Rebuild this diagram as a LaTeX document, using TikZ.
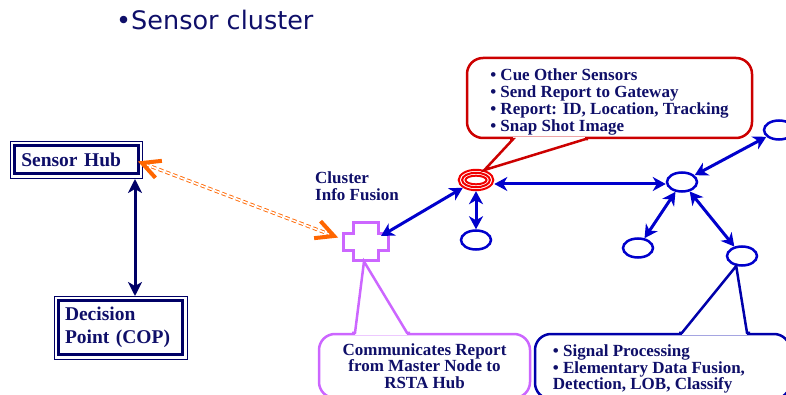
\documentclass[tikz,border=0pt]{standalone}
\usepackage{fontspec}
\setmainfont{Liberation Serif}
\newfontfamily\titlefont{DejaVu Sans}
\usetikzlibrary{arrows.meta,calc,shapes.geometric}
\definecolor{navy}{RGB}{15,15,105}
\definecolor{hubnavy}{RGB}{0,0,102}
\definecolor{nodeblue}{RGB}{0,0,204}
\definecolor{calred}{RGB}{204,0,0}
\definecolor{ringred}{RGB}{240,0,0}
\definecolor{violet}{RGB}{204,102,255}
\definecolor{calblue}{RGB}{0,0,170}
\definecolor{orng}{RGB}{255,102,0}
\begin{document}
\begin{tikzpicture}[x=1pt,y=-1pt,
  txt/.style={font=\bfseries\fontsize{17pt}{16.7pt}\selectfont, text=navy},
  hubbox/.style={draw=hubnavy, line width=3pt, outer sep=0pt, inner ysep=0pt,
    font=\bfseries\fontsize{19.5pt}{22.5pt}\selectfont, text=navy, align=left},
  sensor/.style={ellipse, draw=nodeblue, line width=2.5pt, minimum width=30pt, minimum height=19pt, inner sep=0pt},
  ring/.style={ellipse, draw=ringred, line width=2pt, inner sep=0pt},
  link/.style={draw=nodeblue, line width=3pt,
    {Stealth[length=13pt,width=14pt,inset=4pt]}-{Stealth[length=13pt,width=14pt,inset=4pt]}},
  hublink/.style={draw=hubnavy, line width=3pt,
    {Stealth[length=14pt,width=14pt,inset=4pt]}-{Stealth[length=14pt,width=14pt,inset=4pt]}},
  callout/.style={rounded corners=16pt, line width=2.5pt, fill=white, inner sep=0pt},
  orangeline/.style={draw=orng, line width=0.9pt, double=white, double distance=1.6pt, dash pattern=on 4.5pt off 3pt},
  orangehead/.style={draw=orng, line width=4pt, line join=miter}
]
\useasboundingbox (0,0) rectangle (786,395);

% title
\node[anchor=west, inner sep=0pt, text=navy, font=\titlefont\fontsize{25.5pt}{30pt}\selectfont] (title) at (116,20) {\textbullet Sensor cluster};

% hub boxes
\node[hubbox, minimum width=123.5pt, minimum height=28pt, text width=110pt, inner xsep=6.75pt] (sh) at (76.25,160) {Sensor Hub};
\draw[hubnavy, line width=1pt] ([shift={(-4.5pt,4.5pt)}]sh.north west) rectangle ([shift={(4.5pt,-4.5pt)}]sh.south east);
\node[hubbox, minimum width=124pt, minimum height=54pt, text width=111pt, inner xsep=6.5pt] (dp) at (120.5,327.5) {Decision\\Point (COP)};
\draw[hubnavy, line width=1pt] ([shift={(-4.5pt,4.5pt)}]dp.north west) rectangle ([shift={(4.5pt,-4.5pt)}]dp.south east);
\coordinate (a1) at ([xshift=-3pt,yshift=-5pt]sh.south east);
\coordinate (a2) at ([yshift=4.5pt]a1 |- dp.north);
\draw[hublink] (a1) -- (a2);

% cluster info fusion label
\node[txt, anchor=west, inner sep=0pt, align=left] (cif) at (315,186) {Cluster\\Info Fusion};

% cross (cluster info fusion)
\draw[violet, line width=3pt, line join=miter]
  (353.2,222.5) -- (378.5,222.5) -- (378.5,233.2) -- (388.5,233.2) -- (388.5,250.2) -- (378.5,250.2)
  -- (378.5,260.2) -- (353.2,260.2) -- (353.2,250.2) -- (343.2,250.2) -- (343.2,233.2) -- (353.2,233.2) -- cycle;
\coordinate (cross) at (366,241);
\coordinate (crN) at (381,236);
\coordinate (crS) at (364,261.5);

% orange dashed double link
\coordinate (oL) at ([xshift=4pt,yshift=-3pt]sh.east);
\coordinate (oR) at (334,236);
\draw[orangeline, shorten <=3pt, shorten >=3pt] (oL) -- (oR);
\draw[orangehead] ($(oL)!20pt!27:(oR)$) -- (oL) -- ($(oL)!20pt!-27:(oR)$);
\draw[orangehead] ($(oR)!20pt!27:(oL)$) -- (oR) -- ($(oR)!20pt!-27:(oL)$);

% master node (red rings)
\node[ring, minimum width=34.6pt, minimum height=20.4pt] (master) at (476,180) {};
\node[ring, minimum width=27.8pt, minimum height=14.4pt] (ring2) at (master) {};
\node[ring, minimum width=21pt, minimum height=8.6pt] (ring3) at (master) {};

% sensor nodes
\node[sensor] (n0) at (476,240) {};
\node[sensor] (n1) at (682,182) {};
\node[sensor] (n2) at (779,130) {};
\node[sensor] (n3) at (638,248) {};
\node[sensor] (n4) at (742,256) {};

\draw[link] (master) -- (n0);
\draw[link] (master) -- (crN);
\draw[link] ([yshift=-4pt]master.east) -- ([yshift=-2pt]n1.west);
\draw[link] (n1) -- (n2);
\draw[link] (n1) -- (n3);
\draw[link] (n1) -- (n4);

% red callout
\node[callout, draw=calred, minimum width=285pt, minimum height=80pt] (cue) at (609.5,98) {};
\node[txt, align=left, inner sep=0pt] (cuetext) at ([yshift=-4pt]cue.center)
  {\textbullet\ Cue Other Sensors\\\textbullet\ Send Report to Gateway\\\textbullet\ Report: ID, Location, Tracking\\\textbullet\ Snap Shot Image};
\coordinate (cueL) at ([xshift=-96.5pt]cue.south);
\coordinate (cueR) at ([xshift=-24.5pt]cue.south);
\fill[white] ([yshift=2pt]cueL) rectangle ([yshift=-2pt]cueR);
\draw[calred, line width=2.5pt, line join=miter] ([xshift=-3pt]cueL) -- (cueL) -- (master.50) -- (cueR) -- ([xshift=3pt]cueR);

% violet callout
\node[callout, txt, draw=violet, minimum width=211pt, minimum height=64pt, align=center] (comm) at (424.5,366)
  {Communicates Report\\from Master Node to\\RSTA Hub};
\coordinate (comL) at ([xshift=-69.5pt]comm.north);
\coordinate (comR) at ([xshift=-17.5pt]comm.north);
\fill[white] ([yshift=2pt]comL) rectangle ([yshift=-2pt]comR);
\draw[violet, line width=2.5pt, line join=miter] ([xshift=-3pt]comL) -- (comL) -- (crS) -- (comR) -- ([xshift=3pt]comR);

% blue callout
\node[callout, draw=calblue, minimum width=255pt, minimum height=65pt] (sig) at (662.5,366.5) {};
\node[txt, align=left, inner sep=0pt, anchor=west] (sigtext) at ([xshift=19pt,yshift=-2.5pt]sig.west)
  {\textbullet\ Signal Processing\\\textbullet\ Elementary Data Fusion,\\Detection, LOB, Classify};
\coordinate (sigL) at ([xshift=19.5pt]sig.north);
\coordinate (sigR) at ([xshift=84.5pt]sig.north);
\fill[white] ([yshift=2pt]sigL) rectangle ([yshift=-2pt]sigR);
\draw[calblue, line width=2.5pt, line join=miter] ([xshift=-3pt]sigL) -- (sigL) -- (n4.240) -- (sigR) -- ([xshift=3pt]sigR);
\end{tikzpicture}
\end{document}
